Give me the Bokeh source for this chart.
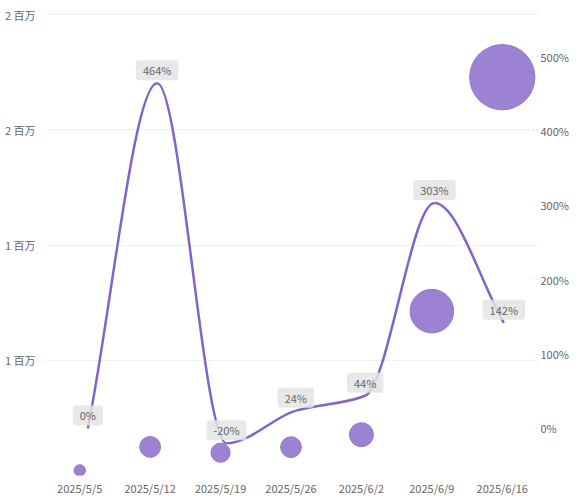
import numpy as np
from bokeh.plotting import figure
from bokeh.models import Range1d, LinearAxis, FixedTicker
from bokeh.embed import file_html
from bokeh.resources import INLINE
from bokeh.core.properties import value

# ---- data ----
dates = ["2025/5/5", "2025/5/12", "2025/5/19", "2025/5/26", "2025/6/2", "2025/6/9", "2025/6/16"]
amounts = [22000, 124000, 99000, 123000, 177000, 713000, 1728000]
growth_pct = [0, 464, -20, 24, 44, 303, 142]
growth_labels = ["0%", "464%", "-20%", "24%", "44%", "303%", "142%"]
left_ticks = [500000, 1000000, 1500000, 2000000]
left_tick_labels = ["1 百万", "1 百万", "2 百万", "2 百万"]
right_ticks = [0, 100, 200, 300, 400, 500]
right_tick_labels = ["0%", "100%", "200%", "300%", "400%", "500%"]

FONT = "Noto Sans CJK SC"
TXT = "#666666"

idx = np.arange(len(dates), dtype=float)
g = np.array(growth_pct, dtype=float)

# monotone cubic (PCHIP-like) tangents for smooth line
d = np.diff(g)
m = np.zeros_like(g)
m[0] = d[0]
m[-1] = d[-1]
for i in range(1, len(g) - 1):
    if d[i - 1] * d[i] > 0:
        m[i] = 2.0 / (1.0 / d[i - 1] + 1.0 / d[i])
    else:
        m[i] = 0.0

x0 = idx[:-1]; x1 = idx[1:]
y0 = g[:-1]; y1 = g[1:]
cx0 = x0 + 1 / 3; cy0 = y0 + m[:-1] / 3
cx1 = x1 - 1 / 3; cy1 = y1 - m[1:] / 3

p = figure(width=586, height=504, output_backend="svg", toolbar_location=None,
           x_range=Range1d(-0.5, 6.5), y_range=Range1d(0, 2008700),
           min_border_left=44, min_border_right=49, min_border_top=12, min_border_bottom=29)
p.outline_line_color = None
p.background_fill_color = "white"
p.border_fill_color = "white"
p.extra_x_ranges = {"lx": Range1d(-0.625, 6.486)}
p.extra_y_ranges = {"pct": Range1d(-63.2, 559.2)}

# axes
p.xaxis.ticker = FixedTicker(ticks=list(range(len(dates))))
p.xaxis.major_label_overrides = {i: s for i, s in enumerate(dates)}
p.yaxis.ticker = FixedTicker(ticks=left_ticks)
p.yaxis.major_label_overrides = {t: s for t, s in zip(left_ticks, left_tick_labels)}
for ax in (p.xaxis[0], p.yaxis[0]):
    ax.axis_line_color = None
    ax.major_tick_line_color = None
    ax.minor_tick_line_color = None
    ax.major_tick_out = 0
    ax.major_tick_in = 0
    ax.major_label_text_font = FONT
    ax.major_label_text_font_size = "11px"
    ax.major_label_text_color = TXT
p.xaxis.major_label_standoff = 4
p.yaxis.major_label_standoff = 9

rax = LinearAxis(y_range_name="pct", ticker=FixedTicker(ticks=right_ticks))
rax.major_label_overrides = {t: s for t, s in zip(right_ticks, right_tick_labels)}
rax.axis_line_color = None
rax.minor_tick_line_color = None
rax.major_tick_out = 0
rax.major_tick_in = 7
rax.major_tick_line_color = "#cccccc"
rax.major_tick_line_dash = "1 3"
rax.major_label_standoff = 3
rax.major_label_text_font = FONT
rax.major_label_text_font_size = "11px"
rax.major_label_text_color = TXT
p.add_layout(rax, "right")

p.xgrid.visible = False
p.ygrid.ticker = FixedTicker(ticks=left_ticks)
p.ygrid.grid_line_color = "#cccccc"
p.ygrid.grid_line_dash = "1 3"

# bubbles (area scaled by amount)
sizes = [2 * (2.3 + 0.73 * np.sqrt(v / 1000.0)) for v in amounts]
p.scatter(x=idx, y=amounts, size=sizes, fill_color="#9d82d3", line_color="#9278cf",
          line_width=1)

# smooth growth line
p.bezier(x0=x0, y0=y0, x1=x1, y1=y1, cx0=cx0, cy0=cy0, cx1=cx1, cy1=cy1,
         x_range_name="lx", y_range_name="pct", line_color="#8363c9", line_width=2.5)

# labels
p.text(x=idx, y=g, text=growth_labels, x_range_name="lx", y_range_name="pct",
       y_offset=-13, text_align="center", text_baseline="middle",
       text_font=value(FONT), text_font_size="11px", text_color=TXT,
       background_fill_color="#e4e4e4", background_fill_alpha=0.85,
       padding=dict(left=7, right=7, top=2, bottom=2), border_radius=3)

open("out.html", "w").write(file_html(p, INLINE))
